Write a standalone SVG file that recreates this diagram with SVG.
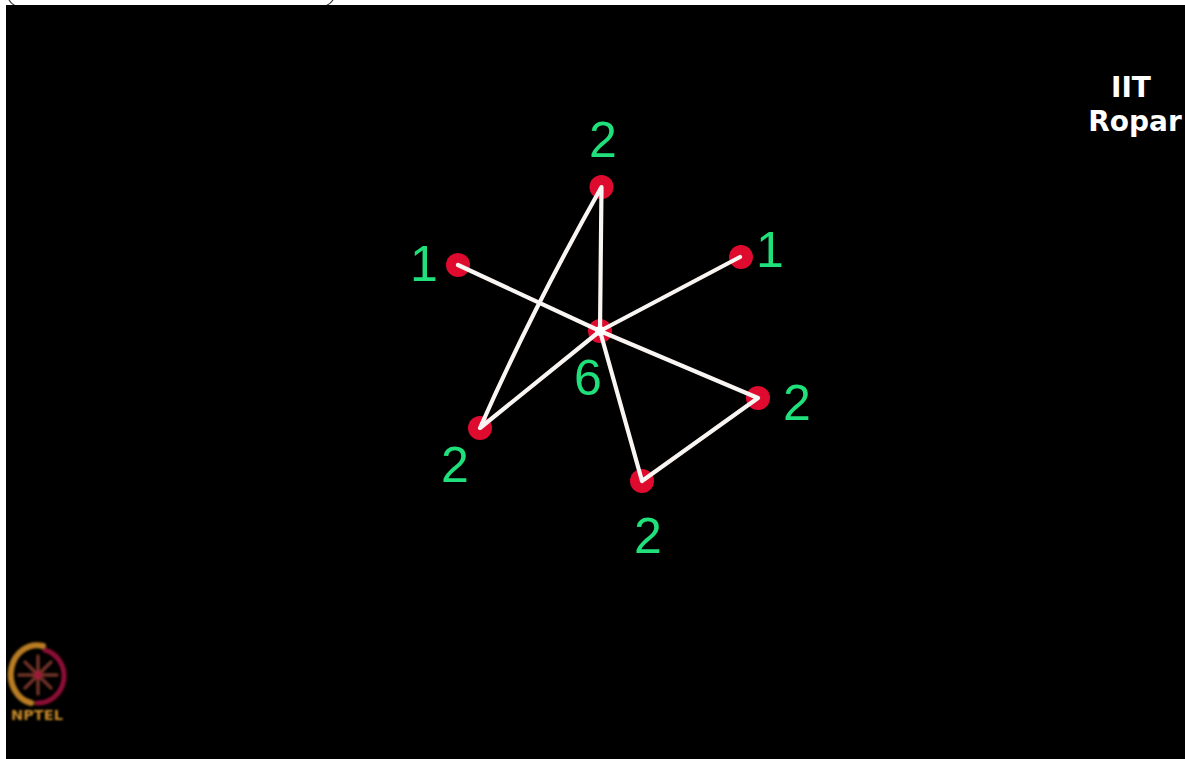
<svg xmlns="http://www.w3.org/2000/svg" width="1185" height="759" viewBox="0 0 1185 759">
<style>
.n{fill:#de0b2f}
.c{stroke:#f8f5f2;stroke-width:4.200;fill:none;stroke-linecap:round;stroke-linejoin:round}
.l{fill:#1fe07a;font-family:"Liberation Sans",Arial,sans-serif;font-size:50px;text-anchor:middle}
.h{fill:#fff;font-family:"DejaVu Sans",Verdana,sans-serif;font-weight:bold;font-size:28px;text-anchor:middle}
.g{fill:none;stroke-linecap:round}
</style>
<defs><filter id="soft" x="-10%" y="-10%" width="120%" height="120%"><feGaussianBlur stdDeviation="0.8"/></filter></defs>
<rect width="1185" height="759" fill="#fff"/>
<path d="M9 0Q13 7 22 7H320Q328 7 333 0" fill="none" stroke="#333" stroke-width="1.200"/>
<rect x="6" y="5" width="1179" height="754" fill="#000"/>
<g id="node-top"><circle class="n" cx="601.500" cy="187" r="12"/><text class="l" x="603" y="157">2</text></g>
<g id="node-left"><circle class="n" cx="458" cy="265" r="12"/><text class="l" x="424" y="281">1</text></g>
<g id="node-right"><circle class="n" cx="741" cy="257" r="12"/><text class="l" x="770" y="267">1</text></g>
<g id="node-center"><circle class="n" cx="600" cy="331" r="12"/><text class="l" x="588" y="395">6</text></g>
<g id="node-lower-left"><circle class="n" cx="480" cy="428" r="12"/><text class="l" x="455" y="482">2</text></g>
<g id="node-bottom"><circle class="n" cx="642" cy="481" r="12"/><text class="l" x="648" y="553">2</text></g>
<g id="node-lower-right"><circle class="n" cx="758" cy="398" r="12"/><text class="l" x="797" y="420">2</text></g>
<g id="connectors">
<path class="c" d="M458 265L600 331L758 398L642 481L600 331L601.500 187Q532 310 480 428L600 331L740 257"/>
</g>
<circle cx="600" cy="331" r="5" fill="#fff"/>
<g id="iit-label"><text class="h" x="1131" y="97">IIT</text><text class="h" x="1135" y="131">Ropar</text></g>
<g id="nptel-logo" filter="url(#soft)">
<path class="g" d="M43 646A26 29 0 0 0 31 703" stroke="#b97d24" stroke-width="6"/>
<path class="g" d="M45 650A26 27 0 0 1 37 703" stroke="#8c0d35" stroke-width="5"/>
<g stroke="#6f3026" stroke-width="3.500" stroke-linecap="round"><path d="M38 656V694M19 675H57M25 662L51 688M51 662L25 688"/></g>
<circle cx="38" cy="675" r="4" fill="#9c1e38"/>
<text x="37" y="720" text-anchor="middle" font-family="'DejaVu Sans',Verdana,sans-serif" font-weight="bold" font-size="14.500" fill="#c98a2a">NPTEL</text>
</g>
</svg>
